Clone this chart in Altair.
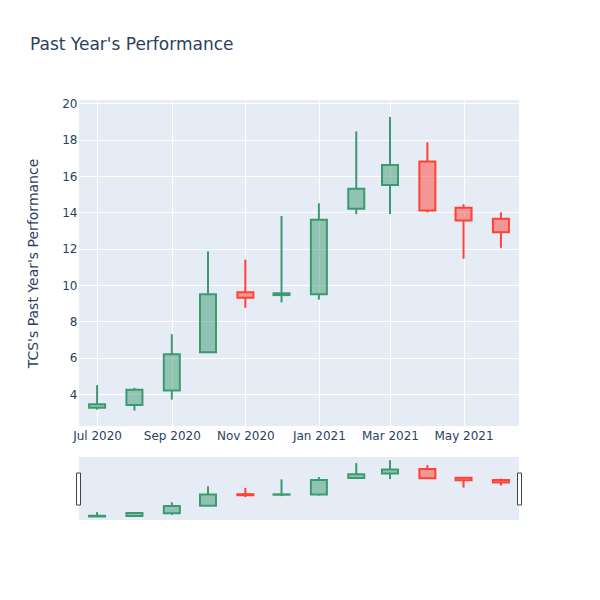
import altair as alt
import pandas as pd

# ---- data (monthly candles) ----
dates = ["2020-07-01", "2020-08-01", "2020-09-01", "2020-10-01", "2020-11-01", "2020-12-01",
         "2021-01-01", "2021-02-01", "2021-03-01", "2021-04-01", "2021-05-01", "2021-06-01"]
opens = [3.25, 3.40, 4.20, 6.30, 9.60, 9.45, 9.50, 14.20, 15.50, 16.80, 14.25, 13.65]
highs = [4.50, 4.35, 7.30, 11.85, 11.40, 13.80, 14.50, 18.45, 19.25, 17.85, 14.45, 14.00]
lows = [3.15, 3.10, 3.70, 6.28, 8.75, 9.05, 9.20, 13.90, 13.90, 14.00, 11.45, 12.05]
closes = [3.45, 4.25, 6.20, 9.50, 9.30, 9.55, 13.60, 15.30, 16.60, 14.10, 13.55, 12.90]

x_ticks = ["2020-07-01", "2020-09-01", "2020-11-01", "2021-01-01", "2021-03-01", "2021-05-01"]
y_ticks = [4, 6, 8, 10, 12, 14, 16, 18, 20]

df = pd.DataFrame({"date": dates, "open": opens, "high": highs, "low": lows, "close": closes})

GREEN = "#3D9970"
RED = "#FF4136"
TXT = "#2a3f5f"
FONT = "DejaVu Sans"


def dt(s):
    y, m, d = (int(p) for p in s.split("-"))
    return alt.DateTime(year=y, month=m, date=d, utc=True)


x_dom = [dt("2020-06-16"), dt("2021-06-16")]
y_dom = [2.25, 20.18]

base = alt.Chart(df).transform_calculate(
    lo_oc="min(datum.open, datum.close)",
    hi_oc="max(datum.open, datum.close)",
    dir="datum.close >= datum.open ? 'up' : 'down'",
)

color_scale = alt.Scale(domain=["up", "down"], range=[GREEN, RED])


def candles(x_axis, y_axis, height):
    xenc = alt.X("date:T", scale=alt.Scale(type="utc", domain=x_dom, nice=False, padding=0),
                 axis=x_axis, title=None)
    yscale = alt.Scale(domain=y_dom, nice=False, zero=False, padding=0)
    col = alt.Color("dir:N", scale=color_scale, legend=None)
    stk = alt.Stroke("dir:N", scale=color_scale, legend=None)
    ytitle = "TCS's Past Year's Performance"
    wick_lo = base.mark_rule(strokeWidth=2).encode(
        x=xenc, y=alt.Y("low:Q", scale=yscale, axis=y_axis, title=ytitle),
        y2="lo_oc:Q", color=col)
    wick_hi = base.mark_rule(strokeWidth=2).encode(
        x=xenc, y=alt.Y("hi_oc:Q", scale=yscale, axis=y_axis, title=ytitle),
        y2="high:Q", color=col)
    body = base.mark_bar(size=16, strokeWidth=2, fillOpacity=0.5).encode(
        x=xenc, y=alt.Y("open:Q", scale=yscale, axis=y_axis, title=ytitle),
        y2="close:Q", fill=alt.Fill("dir:N", scale=color_scale, legend=None), stroke=stk)
    return alt.layer(wick_lo, wick_hi, body).properties(width=440, height=height)


main_x_axis = alt.Axis(values=[dt(s) for s in x_ticks], format="%b %Y", labelPadding=4,
                       grid=True, gridColor="white", gridWidth=1)
main_y_axis = alt.Axis(values=y_ticks, format="d", labelPadding=2, titlePadding=11,
                       minExtent=28, maxExtent=28, grid=True, gridColor="white", gridWidth=1)

main = candles(main_x_axis, main_y_axis, 326)

slider_candles = candles(None, None, 63)
handle_data = pd.DataFrame({"h": [0]})
left_handle = alt.Chart(handle_data).mark_rect(fill="white", stroke="#444", strokeWidth=1).encode(
    x=alt.value(-2.5), x2=alt.value(1.5), y=alt.value(16), y2=alt.value(48))
right_handle = alt.Chart(handle_data).mark_rect(fill="white", stroke="#444", strokeWidth=1).encode(
    x=alt.value(438.5), x2=alt.value(442.5), y=alt.value(16), y2=alt.value(48))
slider = alt.layer(slider_candles, left_handle, right_handle).properties(width=440, height=63)

chart = alt.vconcat(main, slider, spacing=31, bounds="flush").properties(
    title=alt.TitleParams("Past Year's Performance", anchor="start", fontSize=17, font=FONT,
                          fontWeight="normal", color=TXT, offset=43, frame="bounds", dx=4),
    padding={"left": 18, "top": 28, "right": 5, "bottom": 5},
    background="white",
).configure_view(fill="#E5ECF6", stroke=None).configure_axis(
    domain=False, ticks=False, labelFont=FONT, labelFontSize=12, labelColor=TXT,
    titleFont=FONT, titleFontSize=14, titleColor=TXT, titleFontWeight="normal",
)

chart.save("out.html", embed_options={"renderer": "svg", "actions": False})
